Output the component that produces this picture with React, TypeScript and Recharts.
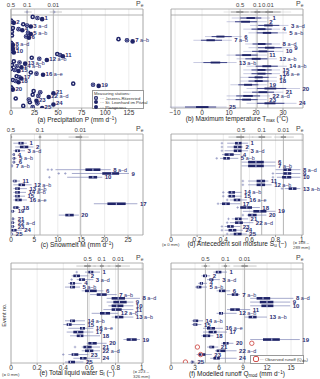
import React from "react";
import {
  ComposedChart,
  Scatter,
  XAxis,
  YAxis,
  ErrorBar,
  ReferenceLine,
  ReferenceArea,
  CartesianGrid,
  LabelList,
} from "recharts";

const events = [1, 2, 3, 4, 5, 6, 7, 8, 9, 10, 11, 12, 13, 14, 15, 16, 17, 18, 19, 20, 21, 22, 23, 24, 25];
const eventLabels = [
  "1", "2", "3 a–d", "4", "5 a–b", "6", "7 a–b", "8 a–d", "9", "10", "11", "12 a–b", "13 a–b",
  "14 a–b", "15", "16 a–e", "17", "18", "19", "20", "21", "22 a–d", "23", "24", "25",
];
const quantileLabels = ["0.5", "0.1", "0.01"];

// (a) precipitation (mm/d) at the three stations
const precipJerzens = [23, 0, 13, 2, 1, 1, 114, 0, 0, 0, 49, 22, 3, 1, 0, 21, 6, 2, 66, 0, 24, 23, 5, 20, 13];
const precipStLeonhard = [28, 1, 17, 8, 18, 16, 123, 1, 1, 2, 52, 30, 9, 6, 4, 27, 9, 5, 87, 1, 31, 29, 19, 28, 23];
const precipPlangeross = [33, 3, 21, 12, 21, 19, 129, 2, 2, 3, 55, 38, 15, 11, 8, 34, 11, 8, 93, 2, 45, 40, 27, 45, 33];
const precipQuant = [0, 17.1, 44.9];
const precipStripMed = [17, 46];
const precipStripLo = [14, 41];
const precipStripHi = [22, 54];

// (b) maximum temperature (°C)
const tmaxLo = [11, 9.1, 17.8, 15.3, 17.2, 1.1, -3.2, 16, 17.2, 15.3, 9.1, 12.8, -3.2, 16.5, 15.3, 15.3, 14.1, 14.1, 10.5, 16.5, 15.3, 9.1, 9.1, 16.5, -11.9];
const tmaxMid = [18, 16, 24.5, 22, 24, 6.5, 3, 22, 25, 22.5, 16.5, 20, 5, 24, 22, 22, 21, 21, 17, 25, 22.5, 17, 16.5, 25, 0.5];
const tmaxHi = [25.2, 24, 32, 28.9, 31.4, 14.7, 11, 28.9, 33.2, 30.1, 24, 27.7, 12.8, 31.4, 28.9, 28.9, 27.7, 27.7, 24, 36.3, 30.1, 25.2, 24, 35, 9.1];
const tmaxQuant = [14.1, 20.4, 24.4];
const tmaxStripMid = [14, 20.4, 24.4];
const tmaxStripLo = [8, 16, 20];
const tmaxStripHi = [20, 26, 33];

// (c) snowmelt (mm/d)
const meltLo = [0.5, 0.9, 0.5, 0.2, 0.2, 0.2, 0, 9.5, 13, 12, 0.2, 0.5, 0.5, 0.5, 0.5, 0.5, 17.7, 0.4, 0, 10.2, 0.1, 0, 0, 0, 0];
const meltQ1 = [1.6, 1.9, 0.9, 0.4, 0.4, 0.4, 0.1, 15.9, 19.5, 16.6, 0.5, 1.6, 0.9, 0.9, 0.9, 0.9, 20.6, 0.5, 0.1, 11.6, 0.2, 0.1, 0.1, 0.1, 0];
const meltMed = [2.1, 2.8, 1.4, 0.6, 0.6, 0.6, 0.2, 17.5, 21.5, 17.5, 0.8, 2.2, 1.3, 1.3, 1.3, 1.5, 22.5, 0.9, 0.3, 12.4, 0.4, 0.3, 0.3, 0.6, 0.1];
const meltQ3 = [2.7, 3.7, 1.9, 0.8, 0.9, 0.8, 0.3, 19.1, 23.1, 18.4, 1.2, 3.0, 1.9, 1.9, 1.9, 2.3, 24.5, 1.6, 0.6, 13.4, 0.6, 0.6, 0.6, 1.2, 0.3];
const meltHi = [3.4, 4.8, 3.0, 0.9, 1.2, 1.1, 0.5, 21.3, 25.2, 19.5, 1.9, 4.4, 3.4, 3.2, 3.0, 3.4, 27, 1.9, 0.9, 14.5, 0.9, 0.9, 0.9, 2.3, 0.5];
const meltOut = [[], [], [], [], [], [], [], [7.9, 8.7], [10.2, 11.6], [8.2], [], [], [], [], [], [], [], [], [], [], [], [], [], [], []];
const meltQuant = [0, 6.2, 14.8];
const meltStrip = { lo: [0, 5.8, 12.3], q1: [0, 6.0, 13.8], med: [0.1, 6.2, 14.8], q3: [0.2, 6.4, 15.2], hi: [0.3, 6.6, 16.6] };

// (d) antecedent soil moisture (-)
const soilLo = [0.43, 0.43, 0.41, 0.39, 0.375, 0.54, 0.54, 0.8, 0.8, 0.81, 0.59, 0.59, 0.87, 0.43, 0.43, 0.45, 0.375, 0.53, 0.55, 0.58, 0.465, 0.45, 0.41, 0.41, 0.45];
const soilQ1 = [0.49, 0.48, 0.48, 0.41, 0.4, 0.59, 0.59, 0.86, 0.86, 0.85, 0.655, 0.655, 0.9, 0.44, 0.44, 0.48, 0.39, 0.53, 0.63, 0.59, 0.49, 0.49, 0.43, 0.44, 0.48];
const soilMed = [0.515, 0.51, 0.51, 0.445, 0.425, 0.65, 0.65, 0.89, 0.89, 0.885, 0.69, 0.69, 0.93, 0.465, 0.465, 0.505, 0.42, 0.58, 0.68, 0.62, 0.515, 0.52, 0.455, 0.47, 0.505];
const soilQ3 = [0.54, 0.54, 0.54, 0.48, 0.45, 0.71, 0.71, 0.92, 0.92, 0.92, 0.72, 0.72, 0.96, 0.49, 0.49, 0.53, 0.45, 0.62, 0.73, 0.655, 0.54, 0.55, 0.48, 0.5, 0.54];
const soilHi = [0.59, 0.55, 0.59, 0.53, 0.515, 0.8, 0.8, 0.99, 0.99, 0.99, 0.745, 0.77, 0.99, 0.54, 0.54, 0.58, 0.53, 0.68, 0.8, 0.73, 0.59, 0.63, 0.53, 0.55, 0.58];
const soilOut = [[0.39], [0.39], [0.39], [], [0.35], [], [], [], [0.78], [0.78], [0.55], [0.55], [0.85], [0.4], [0.4], [0.43], [0.36], [0.51], [], [0.55], [0.44], [0.43], [0.39], [0.39], [0.43]];
const soilQuant = [0.536, 0.694, 0.86];
const soilStrip = { lo: [0.44, 0.62, 0.79], q1: [0.5, 0.67, 0.84], med: [0.536, 0.694, 0.86], q3: [0.56, 0.72, 0.88], hi: [0.63, 0.77, 0.94] };

// (e) total liquid water (-)
const liqLo = [0.566, 0.464, 0.503, 0.439, 0.413, 0.541, 0.605, 0.732, 0.732, 0.745, 0.707, 0.617, 0.77, 0.413, 0.4, 0.439, 0.426, 0.452, 0.86, 0.579, 0.541, 0.541, 0.439, 0.477, 0.413];
const liqQ1 = [0.592, 0.477, 0.52, 0.452, 0.452, 0.566, 0.656, 0.77, 0.783, 0.77, 0.77, 0.681, 0.796, 0.452, 0.426, 0.528, 0.477, 0.503, 0.885, 0.592, 0.554, 0.566, 0.464, 0.528, 0.439];
const liqMed = [0.61, 0.5, 0.54, 0.47, 0.465, 0.6, 0.69, 0.82, 0.83, 0.81, 0.8, 0.72, 0.82, 0.465, 0.44, 0.545, 0.51, 0.53, 0.92, 0.62, 0.58, 0.6, 0.48, 0.55, 0.455];
const liqQ3 = [0.63, 0.528, 0.566, 0.49, 0.49, 0.656, 0.732, 0.872, 0.885, 0.86, 0.847, 0.758, 0.86, 0.49, 0.464, 0.566, 0.554, 0.554, 0.962, 0.656, 0.617, 0.63, 0.515, 0.579, 0.49];
const liqHi = [0.681, 0.592, 0.63, 0.541, 0.528, 0.707, 0.809, 0.987, 0.936, 0.936, 0.936, 0.821, 0.936, 0.566, 0.566, 0.63, 0.63, 0.681, 0.987, 0.732, 0.681, 0.681, 0.592, 0.681, 0.554];
const liqOut = [[0.503], [], [0.464], [], [], [], [], [], [], [], [], [], [], [], [], [], [], [], [], [], [0.49], [], [0.4], [], []];
const liqQuant = [0.587, 0.694, 0.82];
const liqStrip = { lo: [0.5, 0.63, 0.74], q1: [0.56, 0.68, 0.8], med: [0.587, 0.694, 0.82], q3: [0.61, 0.71, 0.84], hi: [0.65, 0.76, 0.91] };

// (f) modelled runoff (mm/d) and observed runoff
const qLo = [5.3, 3.8, 4.5, 3.4, 3.0, 5.7, 7.0, 9.9, 9.9, 9.9, 7.0, 5.7, 9.2, 2.6, 2.6, 4.0, 4.0, 3.8, 9.9, 6.3, 4.5, 5.5, 3.2, 4.9, 2.4];
const qQ1 = [5.6, 4.0, 4.8, 3.6, 3.2, 6.0, 7.6, 10.7, 11.1, 11.3, 7.4, 6.0, 9.7, 2.8, 2.8, 4.5, 4.7, 4.0, 11.5, 6.5, 4.8, 5.7, 3.5, 5.3, 2.5];
const qMed = [5.9, 4.3, 5.0, 3.8, 3.4, 6.3, 8.0, 11.5, 12.0, 12.0, 8.0, 6.3, 10.2, 3.0, 3.0, 5.0, 5.3, 4.5, 12.6, 6.9, 5.0, 6.1, 3.8, 5.7, 2.6];
const qQ3 = [6.3, 4.5, 5.3, 4.0, 3.8, 6.8, 8.4, 12.4, 12.8, 12.8, 8.6, 6.5, 10.7, 3.4, 3.3, 5.5, 5.7, 4.9, 13.6, 7.2, 5.4, 6.8, 4.3, 6.1, 2.8];
const qHi = [7.0, 4.9, 6.1, 4.5, 4.5, 7.4, 8.6, 15.3, 14.9, 14.9, 9.9, 8.2, 12.0, 4.0, 3.8, 6.5, 7.0, 5.3, 16.1, 7.8, 5.9, 8.2, 5.1, 8.2, 3.0];
const qQuant = [4.3, 6.8, 9.2];
const qStrip = { lo: [3.8, 6.3, 7.8], q1: [4.1, 6.6, 8.8], med: [4.3, 6.8, 9.2], q3: [4.5, 7.0, 9.6], hi: [4.9, 7.4, 10.7] };
const obsEvents = [20, 21, 23, 25];
const obsRunoff = [10.1, 3.3, 3.7, 1.8];

const NAVY = "#1f2468";
const WHISKER = "#8186b8";
const TEXT = "#2a2e72";
const GRAY = "#a0a0a0";
const STRIP = "#8a8a8a";
const FONT = "'Liberation Sans', Arial, sans-serif";
const Y_DOMAIN: [number, number] = [-1.43, 25.26];
const STRIP_Y = -0.62;
const STRIP_SEP = 0.19;

type Strip = { lo: number[]; q1: number[]; med: number[]; q3: number[]; hi: number[] };

const boxRows = (lo: number[], q1: number[], med: number[], q3: number[], hi: number[], ys: number[]) =>
  med.map((m, i) => ({ x: m, y: ys[i], wh: [m - lo[i], hi[i] - m], bx: [m - q1[i], q3[i] - m] }));

const labelRows = (hi: number[]) => hi.map((h, i) => ({ x: h, y: events[i], label: eventLabels[i] }));

const outRows = (out: number[][]) => out.flatMap((vals, i) => vals.map((v) => ({ x: v, y: events[i] })));

const EventLabel = (p: any) => {
  const vb = p.viewBox || p;
  const cx = (vb.x ?? 0) + (vb.width ?? 0) / 2;
  const cy = (vb.y ?? 0) + (vb.height ?? 0) / 2;
  const parts = String(p.value).split(" ");
  return (
    <text x={cx + 2.5} y={cy} dy="0.35em" fontSize={6} fill={TEXT} fontFamily={FONT}>
      <tspan fontWeight={700}>{parts[0]}</tspan>
      {parts.length > 1 ? <tspan fontWeight={400} fontSize={5.4}>{" " + parts.slice(1).join(" ")}</tspan> : null}
    </text>
  );
};

const Empty = () => <g />;
const Median = (p: any) => <rect x={p.cx - 0.5} y={p.cy - 1.2} width={1} height={2.4} fill="#b9bce0" />;
const Plus = (p: any) => (
  <g stroke={WHISKER} strokeWidth={0.6}>
    <line x1={p.cx - 1.3} x2={p.cx + 1.3} y1={p.cy} y2={p.cy} />
    <line x1={p.cx} x2={p.cx} y1={p.cy - 1.3} y2={p.cy + 1.3} />
  </g>
);
const Station1 = (p: any) => (
  <g>
    <circle cx={p.cx} cy={p.cy} r={2.3} fill={NAVY} />
    <circle cx={p.cx} cy={p.cy} r={0.8} fill="#fff" />
  </g>
);
const Station2 = (p: any) => (
  <g>
    <circle cx={p.cx} cy={p.cy} r={2.3} fill={NAVY} />
    <circle cx={p.cx} cy={p.cy} r={1.2} fill="none" stroke="#c8cbee" strokeWidth={0.5} />
  </g>
);
const Station3 = (p: any) => <circle cx={p.cx} cy={p.cy} r={2.3} fill={NAVY} />;
const ObsCircle = (p: any) => <circle cx={p.cx} cy={p.cy} r={2.2} fill="none" stroke="#d0504c" strokeWidth={0.9} />;

function Panel(props: {
  left: number;
  top: number;
  height: number;
  domain: [number, number];
  ticks: number[];
  quantiles: number[];
  tickFormat?: (v: number) => string;
  children: React.ReactNode;
}) {
  const { left, top, height, domain, ticks, quantiles, tickFormat, children } = props;
  return (
    <div style={{ position: "absolute", left, top }}>
      <ComposedChart width={160} height={height} margin={{ top: 9, right: 17, bottom: 2, left: 11 }}>
        <CartesianGrid horizontal={false} stroke="#ececec" />
        <XAxis
          type="number"
          dataKey="x"
          domain={domain}
          ticks={ticks}
          interval={0}
          allowDataOverflow
          tickFormatter={tickFormat}
          tick={{ fontSize: 6.5, fill: "#333", fontFamily: FONT }}
          tickSize={2}
          tickMargin={0}
          axisLine={false}
          tickLine={{ stroke: GRAY }}
          height={10}
        />
        <YAxis type="number" dataKey="y" domain={Y_DOMAIN} reversed hide allowDataOverflow />
        <ReferenceArea x1={domain[0]} x2={domain[1]} y1={Y_DOMAIN[0]} y2={Y_DOMAIN[1]} fill="none" stroke={GRAY} strokeWidth={0.8} />
        <ReferenceLine y={STRIP_SEP} stroke={GRAY} strokeWidth={0.8} />
        {quantiles.map((q, i) => (
          <ReferenceLine
            key={"q" + i}
            x={q}
            stroke="#b4b4b4"
            strokeWidth={1}
            label={{ value: quantileLabels[i], position: "top", offset: 2, fontSize: 6, fill: "#444", fontFamily: FONT }}
          />
        ))}
        {children}
      </ComposedChart>
    </div>
  );
}

function boxSeries(lo: number[], q1: number[], med: number[], q3: number[], hi: number[], out: number[][] | null, strip: Strip) {
  const stripYs = strip.med.map(() => STRIP_Y);
  return [
    <Scatter key="strip" data={boxRows(strip.lo, strip.q1, strip.med, strip.q3, strip.hi, stripYs)} isAnimationActive={false} shape={Empty}>
      <ErrorBar dataKey="wh" direction="x" width={0} stroke="#b0b0b0" strokeWidth={0.7} />
      <ErrorBar dataKey="bx" direction="x" width={0} stroke={STRIP} strokeWidth={1.6} />
    </Scatter>,
    <Scatter key="out" data={outRows(out || [])} isAnimationActive={false} shape={Plus} />,
    <Scatter key="box" data={boxRows(lo, q1, med, q3, hi, events)} isAnimationActive={false} shape={Median}>
      <ErrorBar dataKey="wh" direction="x" width={0} stroke={WHISKER} strokeWidth={0.7} />
      <ErrorBar dataKey="bx" direction="x" width={0} stroke={NAVY} strokeWidth={2.6} />
    </Scatter>,
    <Scatter key="lab" data={labelRows(hi)} isAnimationActive={false} shape={Empty}>
      <LabelList dataKey="label" content={EventLabel} />
    </Scatter>,
  ];
}

const spindleRows = (lo: number[], mid: number[], hi: number[], ys: number[]) =>
  mid.map((m, i) => ({
    x: m,
    y: ys[i],
    e1: [m - lo[i], hi[i] - m],
    e2: [(m - lo[i]) * 0.55, (hi[i] - m) * 0.55],
    e3: [(m - lo[i]) * 0.22, (hi[i] - m) * 0.22],
  }));

const precipRows = (vals: number[], dy: number) => vals.map((v, i) => ({ x: v, y: events[i] + dy }));
const precipMax = precipJerzens.map((v, i) => Math.max(v, precipStLeonhard[i], precipPlangeross[i]));

const titleStyle: React.CSSProperties = {
  position: "absolute",
  fontSize: 6.5,
  color: "#222",
  whiteSpace: "nowrap",
  transform: "translateX(-50%)",
  lineHeight: "8px",
};
const peStyle: React.CSSProperties = { position: "absolute", fontSize: 7, color: "#444", lineHeight: "8px" };
const noteStyle: React.CSSProperties = { position: "absolute", fontSize: 4.3, color: "#444", lineHeight: "4.6px", whiteSpace: "nowrap" };
const subStyle: React.CSSProperties = { fontSize: "70%", verticalAlign: "-1px" };
const supStyle: React.CSSProperties = { fontSize: "70%", verticalAlign: "2px" };

const dot = (kind: number) => (
  <span
    style={{
      display: "inline-block",
      width: 4,
      height: 4,
      borderRadius: 2,
      background: NAVY,
      marginRight: 2,
      verticalAlign: "-0.5px",
      boxShadow: kind === 1 ? "inset 0 0 0 1.2px #1f2468, inset 0 0 0 2px #fff" : "none",
    }}
  />
);

export default function App() {
  return (
    <div style={{ position: "absolute", left: 0, top: 0, width: 320, height: 379, background: "#fff", fontFamily: FONT }}>
      {/* (a) precipitation */}
      <Panel left={0} top={0} height={120} domain={[0, 140]} ticks={[0, 25, 50, 75, 100, 125]} quantiles={precipQuant}>
        <Scatter
          data={precipStripMed.map((m, i) => ({ x: m, y: STRIP_Y, wh: [m - precipStripLo[i], precipStripHi[i] - m] }))}
          isAnimationActive={false}
          shape={Plus}
        >
          <ErrorBar dataKey="wh" direction="x" width={0} stroke="#b0b0b0" strokeWidth={0.7} />
        </Scatter>
        <Scatter data={precipRows(precipJerzens, -0.3)} isAnimationActive={false} shape={Station1} />
        <Scatter data={precipRows(precipStLeonhard, 0)} isAnimationActive={false} shape={Station2} />
        <Scatter data={precipRows(precipPlangeross, 0.3)} isAnimationActive={false} shape={Station3} />
        <Scatter data={labelRows(precipMax)} isAnimationActive={false} shape={Empty}>
          <LabelList dataKey="label" content={EventLabel} />
        </Scatter>
      </Panel>

      {/* (b) max temperature */}
      <Panel
        left={160}
        top={0}
        height={120}
        domain={[-11.5, 37.4]}
        ticks={[-10, 0, 10, 20, 30]}
        quantiles={tmaxQuant}
        tickFormat={(v) => (v < 0 ? "−" + Math.abs(v) : String(v))}
      >
        <Scatter data={spindleRows(tmaxStripLo, tmaxStripMid, tmaxStripHi, tmaxStripMid.map(() => STRIP_Y))} isAnimationActive={false} shape={Empty}>
          <ErrorBar dataKey="e1" direction="x" width={0} stroke="#c8c8c8" strokeWidth={0.5} />
          <ErrorBar dataKey="e2" direction="x" width={0} stroke="#acacac" strokeWidth={1.1} />
          <ErrorBar dataKey="e3" direction="x" width={0} stroke="#909090" strokeWidth={1.8} />
        </Scatter>
        <Scatter data={spindleRows(tmaxLo, tmaxMid, tmaxHi, events)} isAnimationActive={false} shape={Empty}>
          <ErrorBar dataKey="e1" direction="x" width={0} stroke="#9296c4" strokeWidth={0.5} />
          <ErrorBar dataKey="e2" direction="x" width={0} stroke="#4a4f90" strokeWidth={1.1} />
          <ErrorBar dataKey="e3" direction="x" width={0} stroke={NAVY} strokeWidth={1.9} />
        </Scatter>
        <Scatter data={labelRows(tmaxHi)} isAnimationActive={false} shape={Empty}>
          <LabelList dataKey="label" content={EventLabel} />
        </Scatter>
      </Panel>

      {/* (c) snowmelt */}
      <Panel left={0} top={125} height={122} domain={[0, 28.2]} ticks={[0, 5, 10, 15, 20, 25]} quantiles={meltQuant}>
        {boxSeries(meltLo, meltQ1, meltMed, meltQ3, meltHi, meltOut, meltStrip)}
      </Panel>

      {/* (d) antecedent soil moisture */}
      <Panel left={160} top={125} height={122} domain={[0, 1.01]} ticks={[0, 0.2, 0.4, 0.6, 0.8, 1]} quantiles={soilQuant}>
        {boxSeries(soilLo, soilQ1, soilMed, soilQ3, soilHi, soilOut, soilStrip)}
      </Panel>

      {/* (e) total liquid water */}
      <Panel left={0} top={254} height={121} domain={[0, 1.01]} ticks={[0, 0.2, 0.4, 0.6, 0.8, 1]} quantiles={liqQuant}>
        {boxSeries(liqLo, liqQ1, liqMed, liqQ3, liqHi, liqOut, liqStrip)}
      </Panel>

      {/* (f) modelled runoff */}
      <Panel left={160} top={254} height={121} domain={[0, 16.5]} ticks={[0, 3, 6, 9, 12, 15]} quantiles={qQuant}>
        {boxSeries(qLo, qQ1, qMed, qQ3, qHi, null, qStrip)}
        <Scatter data={obsEvents.map((e, i) => ({ x: obsRunoff[i], y: e }))} isAnimationActive={false} shape={ObsCircle} />
      </Panel>

      {/* panel titles */}
      <div style={{ ...titleStyle, left: 77, top: 115 }}>
        (a) Precipitation P (mm d<span style={supStyle}>−1</span>)
      </div>
      <div style={{ ...titleStyle, left: 237, top: 115 }}>
        (b) Maximum temperature T<span style={subStyle}>max</span> (°C)
      </div>
      <div style={{ ...titleStyle, left: 77, top: 240 }}>
        (c) Snowmelt M (mm d<span style={supStyle}>−1</span>)
      </div>
      <div style={{ ...titleStyle, left: 237, top: 240 }}>
        (d) Antecedent soil moisture S<span style={subStyle}>u</span> (−)
      </div>
      <div style={{ ...titleStyle, left: 77, top: 369 }}>
        (e) Total liquid water S<span style={subStyle}>l</span> (−)
      </div>
      <div style={{ ...titleStyle, left: 237, top: 369 }}>
        (f) Modelled runoff Q<span style={subStyle}>mod</span> (mm d<span style={supStyle}>−1</span>)
      </div>

      {/* P_e labels */}
      {[
        [136, 0],
        [296, 0],
        [136, 125],
        [296, 125],
        [136, 254],
        [296, 254],
      ].map(([l, t], i) => (
        <div key={"pe" + i} style={{ ...peStyle, left: l, top: t }}>
          P<span style={subStyle}>e</span>
        </div>
      ))}

      {/* notes under soil moisture / liquid water axes */}
      <div style={{ ...noteStyle, left: 162, top: 243 }}>(= 0 mm)</div>
      <div style={{ ...noteStyle, left: 293, top: 241 }}>
        (= 168 –<br />289 mm)
      </div>
      <div style={{ ...noteStyle, left: 2, top: 373 }}>(= 0 mm)</div>
      <div style={{ ...noteStyle, left: 133, top: 370 }}>
        (= 223 –<br />326 mm)
      </div>

      {/* Event no. */}
      <div
        style={{
          position: "absolute",
          left: -8,
          top: 312,
          fontSize: 5.5,
          color: "#333",
          transform: "rotate(-90deg)",
          whiteSpace: "nowrap",
        }}
      >
        Event no.
      </div>

      {/* legend (a) */}
      <div
        style={{
          position: "absolute",
          left: 92,
          top: 90,
          width: 48,
          height: 16,
          border: "0.6px solid #999",
          background: "#fff",
          fontSize: 4.2,
          lineHeight: "4px",
          padding: "0.5px 1px",
          color: "#333",
          whiteSpace: "nowrap",
        }}
      >
        <div>Measuring stations:</div>
        <div>{dot(1)}··· Jerzens-Ritzenried</div>
        <div>{dot(2)}··· St. Leonhard im Pitztal</div>
        <div>{dot(3)}··· Plangeross</div>
      </div>

      {/* legend (f) */}
      <div
        style={{
          position: "absolute",
          left: 250,
          top: 355,
          width: 50,
          height: 7,
          border: "0.6px solid #999",
          background: "#fff",
          fontSize: 4.3,
          lineHeight: "7px",
          paddingLeft: 2,
          color: "#333",
          whiteSpace: "nowrap",
        }}
      >
        <span
          style={{
            display: "inline-block",
            width: 3.5,
            height: 3.5,
            borderRadius: 2,
            border: "0.8px solid #d0504c",
            verticalAlign: "-0.5px",
            marginRight: 1,
          }}
        />
        ··· Observed runoff (Q<span style={subStyle}>obs</span>)
      </div>
    </div>
  );
}
